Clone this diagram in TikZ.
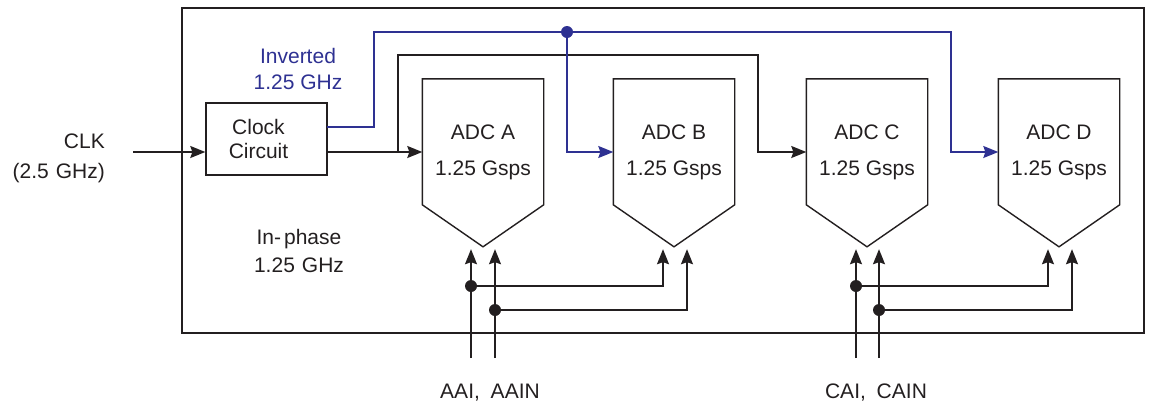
\documentclass[tikz,border=0pt]{standalone}
\usepackage{fontspec}
\setmainfont{Liberation Sans}
\usetikzlibrary{arrows.meta, calc, positioning}
\definecolor{InvBlue}{RGB}{46,49,146}
\definecolor{WireDark}{HTML}{231F20}

\begin{document}
\begin{tikzpicture}[x=1pt, y=-1pt,
    wire/.style={line width=1.4pt, WireDark},
    bluewire/.style={line width=1.3pt, InvBlue},
    arr/.style={-{Stealth[length=15pt, width=12pt, inset=2pt]}},
    adc/.style={minimum width=121pt, minimum height=146pt, inner sep=0pt, align=center, font=\fontsize{21}{36}\selectfont, text=WireDark},
    clkbox/.style={draw=WireDark, line width=1.4pt, minimum width=121pt, minimum height=72pt, inner sep=0pt, align=center, font=\fontsize{21}{24}\selectfont, text=WireDark},
    lbl/.style={inner sep=0pt, align=center, font=\fontsize{21}{28}\selectfont, text=WireDark},
    jdot/.style={circle, fill, inner sep=0pt, minimum size=12pt}
  ]
  \useasboundingbox (0,0) rectangle (1151,408);

  % chip outline
  \draw[wire] (182,8) rectangle (1144,333);

  % clock circuit and ADCs
  \node[clkbox] (clk) at (266.5,139) {Clock\hspace*{16pt}\\Circuit\hspace*{16pt}};
  \node[adc] (adcA) at (483,152) {ADC A\\1.25 Gsps};
  \node[adc] (adcB) at (674,152) {ADC B\\1.25 Gsps};
  \node[adc] (adcC) at (867,152) {ADC C\\1.25 Gsps};
  \node[adc] (adcD) at (1059,152) {ADC D\\1.25 Gsps};

  \draw[wire] (adcA.north west) -- (adcA.north east) -- ($(adcA.north east)+(0,126)$) -- ($(adcA.north)+(0,168)$) -- ($(adcA.north west)+(0,126)$) -- cycle;
  \draw[wire] (adcB.north west) -- (adcB.north east) -- ($(adcB.north east)+(0,126)$) -- ($(adcB.north)+(0,168)$) -- ($(adcB.north west)+(0,126)$) -- cycle;
  \draw[wire] (adcC.north west) -- (adcC.north east) -- ($(adcC.north east)+(0,126)$) -- ($(adcC.north)+(0,168)$) -- ($(adcC.north west)+(0,126)$) -- cycle;
  \draw[wire] (adcD.north west) -- (adcD.north east) -- ($(adcD.north east)+(0,126)$) -- ($(adcD.north)+(0,168)$) -- ($(adcD.north west)+(0,126)$) -- cycle;

  % clock input
  \coordinate (clkin) at (133,152);
  \node[lbl, align=right, anchor=east, font=\fontsize{21}{30}\selectfont] (clklbl) at (105,158) {CLK\\(2.5\hspace{7pt}GHz)};
  \draw[wire, arr] (clkin) -- (clkin -| clk.west);

  % in-phase clock
  \coordinate (iptap) at (398,152);
  \coordinate (iptop) at (758,55);
  \draw[wire, arr] (clk.east |- adcA.west) -- (adcA.west);
  \draw[wire, arr] (iptap) |- (iptop) -- (iptop |- adcC.west) -- (adcC.west);
  \node[lbl] (iplbl) at (299,251) {In-\hspace{3pt}phase\\1.25\hspace{7pt}GHz};

  % inverted clock
  \coordinate (invout) at (327,127);
  \coordinate (invtap) at (567,32);
  \coordinate (invend) at (951,32);
  \draw[bluewire] (invout) -| (374,32) -- (invtap);
  \draw[bluewire, arr] (invtap) -- (invtap |- adcB.west) -- (adcB.west);
  \draw[bluewire, arr] (invtap) -- (invend) -- (invend |- adcD.west) -- (adcD.west);
  \node[jdot, InvBlue] (invdot) at (invtap) {};
  \node[lbl, text=InvBlue, font=\fontsize{21}{26}\selectfont] (invlbl) at (298,69) {Inverted\\1.25 GHz};

  % analog inputs A/B
  \coordinate (aai) at (471,358);
  \coordinate (aain) at (495,358);
  \draw[wire, arr] (aai) -- ($(adcA.south)+(-12,24)$);
  \draw[wire, arr] (aain) -- ($(adcA.south)+(12,24)$);
  \draw[wire, arr] (471,286) -| ($(adcB.south)+(-11,24)$);
  \draw[wire, arr] (495,310) -| ($(adcB.south)+(13,24)$);
  \node[jdot, WireDark] (aaidot) at (471,286) {};
  \node[jdot, WireDark] (aaindot) at (495,310) {};
  \node[lbl] (alabel) at (490,393) {AAI,\hspace{5pt} AAIN};

  % analog inputs C/D
  \coordinate (cai) at (856,358);
  \coordinate (cain) at (879,358);
  \draw[wire, arr] (cai) -- ($(adcC.south)+(-11,24)$);
  \draw[wire, arr] (cain) -- ($(adcC.south)+(12,24)$);
  \draw[wire, arr] (856,286) -| ($(adcD.south)+(-11,24)$);
  \draw[wire, arr] (879,310) -| ($(adcD.south)+(13,24)$);
  \node[jdot, WireDark] (caidot) at (856,286) {};
  \node[jdot, WireDark] (caindot) at (879,310) {};
  \node[lbl] (clabel) at (876,393) {CAI,\hspace{5pt} CAIN};
\end{tikzpicture}
\end{document}
